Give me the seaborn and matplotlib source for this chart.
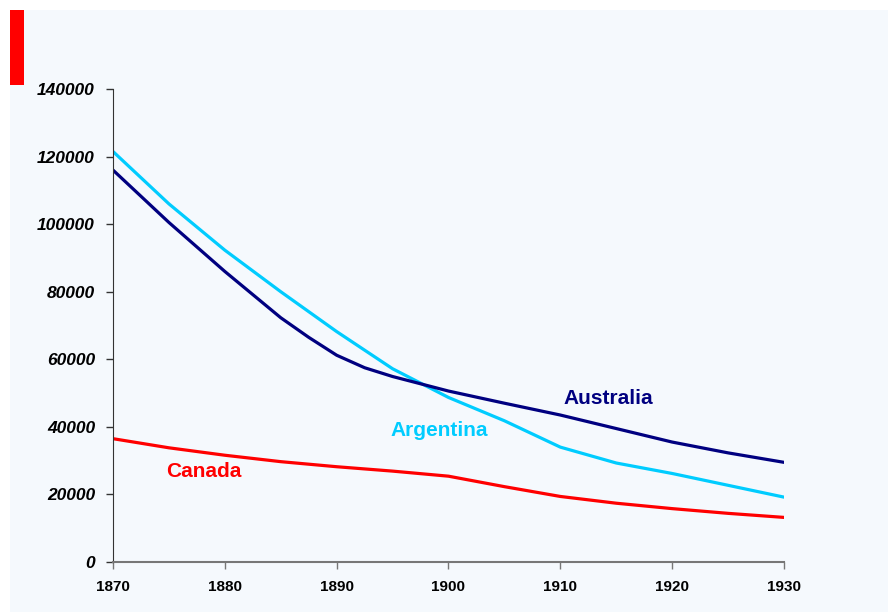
import pandas as pd
import seaborn as sns
import matplotlib.pyplot as plt
from matplotlib.patches import Rectangle

years = [1870, 1875, 1880, 1885, 1890, 1895, 1900, 1905, 1910, 1915, 1920, 1925, 1930]
argentina = [121500, 106000, 92300, 80000, 68200, 57200, 48700, 41800, 34000, 29300, 26200, 22700, 19200]
australia_years = [1870, 1875, 1880, 1885, 1887.5, 1890, 1892.5, 1895, 1900, 1905, 1910, 1915, 1920, 1925, 1930]
australia = [116000, 100500, 86000, 72300, 66500, 61200, 57500, 54900, 50600, 47000, 43500, 39500, 35500, 32300, 29500]
canada = [36500, 33800, 31600, 29700, 28200, 26900, 25400, 22300, 19400, 17400, 15800, 14400, 13200]

colors = {'Argentina': '#00CCFF', 'Australia': '#000080', 'Canada': '#FF0000'}

df = pd.concat([
    pd.DataFrame({'year': years, 'value': argentina, 'country': 'Argentina'}),
    pd.DataFrame({'year': australia_years, 'value': australia, 'country': 'Australia'}),
    pd.DataFrame({'year': years, 'value': canada, 'country': 'Canada'}),
], ignore_index=True)

sns.set_style("ticks")
plt.rcParams['font.family'] = ['Liberation Sans', 'DejaVu Sans']

fig = plt.figure(figsize=(8.88, 6.12), dpi=100)
fig.patch.set_facecolor('white')
# light panel background and red marker bar
fig.patches.append(Rectangle((10 / 888, 0), 1, 1 - 10 / 612, transform=fig.transFigure,
                             facecolor='#F5F9FD', edgecolor='none', zorder=-2))
fig.patches.append(Rectangle((10 / 888, 1 - 85 / 612), 14 / 888, 75 / 612, transform=fig.transFigure,
                             facecolor='#FF0000', edgecolor='none', zorder=-1))

ax = fig.add_axes([113 / 888, 50 / 612, 671 / 888, 473 / 612])
ax.set_facecolor('none')

sns.lineplot(data=df, x='year', y='value', hue='country', palette=colors,
             linewidth=2.3, legend=False, ax=ax)

ax.set_xlim(1870, 1930)
ax.set_ylim(0, 140000)
ax.set_xticks(range(1870, 1931, 10))
ax.set_yticks(range(0, 140001, 20000))
ax.set_xlabel('')
ax.set_ylabel('')
for lbl in ax.get_yticklabels():
    lbl.set_fontsize(12.5)
    lbl.set_fontweight('bold')
    lbl.set_fontstyle('italic')
for lbl in ax.get_xticklabels():
    lbl.set_fontsize(11)
    lbl.set_fontweight('bold')
ax.tick_params(axis='both', length=5, width=1, colors='#333333', labelcolor='black')
ax.tick_params(axis='x', colors='#777777', labelcolor='black', pad=8)
ax.tick_params(axis='y', pad=8)
sns.despine(ax=ax)
ax.spines['left'].set_color('#333333')
ax.spines['bottom'].set_color('#777777')
ax.spines['bottom'].set_linewidth(1.5)

ax.text(1914.3, 48500, 'Australia', color='#000080', fontsize=15, fontweight='bold', ha='center', va='center')
ax.text(1899.2, 38800, 'Argentina', color='#00CCFF', fontsize=15, fontweight='bold', ha='center', va='center')
ax.text(1878.1, 26900, 'Canada', color='#FF0000', fontsize=15, fontweight='bold', ha='center', va='center')

fig.savefig('out.png', dpi=100)
